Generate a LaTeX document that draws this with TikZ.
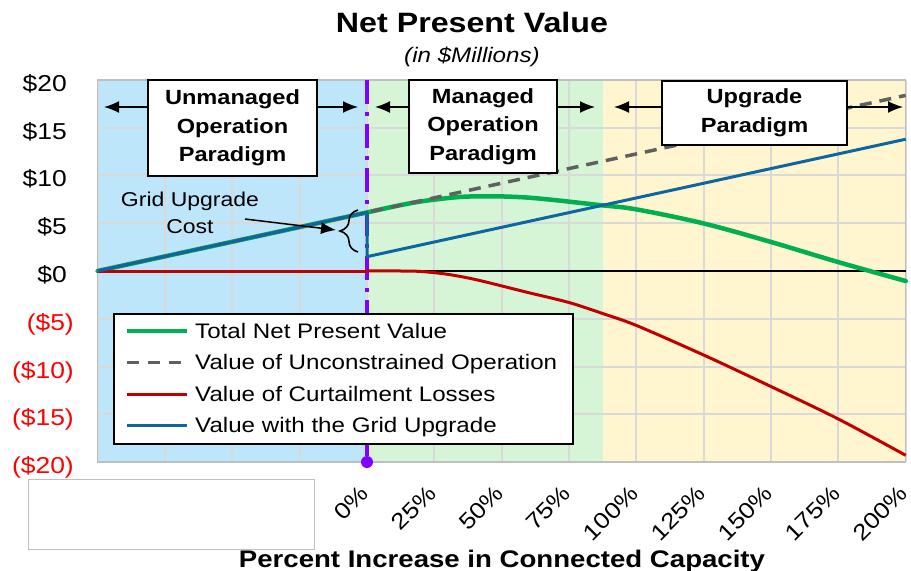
\documentclass[tikz,border=0pt]{standalone}
\usepackage{fontspec}
\setmainfont{Liberation Sans}[FakeStretch=1.15]
\usetikzlibrary{decorations.pathreplacing,arrows.meta}
\definecolor{bgblue}{RGB}{189,230,251}
\definecolor{bggreen}{RGB}{214,245,214}
\definecolor{bgyellow}{RGB}{255,245,206}
\definecolor{gridc}{RGB}{217,217,217}
\definecolor{framec}{RGB}{191,191,191}
\definecolor{sgreen}{RGB}{0,176,80}
\definecolor{sgray}{RGB}{96,96,96}
\definecolor{sred}{RGB}{192,0,0}
\definecolor{sblue}{RGB}{14,102,160}
\definecolor{purp}{RGB}{128,0,255}
\definecolor{negred}{RGB}{255,0,0}
\newcommand\fs[2]{\fontsize{#1bp}{#2bp}\selectfont}
\begin{document}
\begin{tikzpicture}[x=1bp,y=-1bp,
  ylab/.style={anchor=base east, inner sep=0pt, font=\fs{23}{27}},
  xlab/.style={anchor=east, rotate=45, inner sep=0pt, font=\fs{22.5}{26}},
  parbox/.style={draw, line width=2bp, fill=white, align=center, inner sep=0pt, font=\bfseries\fs{20.5}{28.5}},
  arr/.style={-{Latex[length=15bp,width=12bp]}, line width=1.5bp},
  legtext/.style={anchor=base west, inner sep=0pt, font=\fs{21}{25}},
  gridline/.style={gridc, line width=2bp},
  sgreenline/.style={sgreen, line width=4.5bp, line join=round, line cap=round},
  sgrayline/.style={sgray, line width=3.5bp, dash pattern=on 12bp off 8bp},
  sredline/.style={sred, line width=3bp, line join=round},
  sblueline/.style={sblue, line width=3bp, line join=round}]
\useasboundingbox (0,0) rectangle (911,571);
\fill[white] (0,0) rectangle (911,571);

% titles
\node[anchor=base, inner sep=0pt, font=\bfseries\fs{28}{32}] (title) at (472,33) {Net Present Value};
\node[anchor=base, inner sep=0pt, font=\itshape\fs{21}{25}] (subtitle) at (472,63) {(in \$Millions)};

% plot
\begin{scope}[shift={(367,271)}, x=2.6935bp, y=9.55bp]
  \fill[bgblue] (-100,-20) rectangle (0,20);
  \fill[bggreen] (0,-20) rectangle (87.6,20);
  \fill[bgyellow] (87.6,-20) rectangle (200,20);
  \foreach \i in {-100,-75,...,200} \draw[gridline] (\i,-20) -- (\i,20);
  \foreach \j in {-20,-15,...,20} \draw[gridline] (-100,\j) -- (200,\j);
  \draw[framec, line width=1.5bp] (-100,-20) rectangle (200,20);
  \draw[purp, line width=3.5bp, dash pattern=on 24bp off 8bp on 4bp off 8bp] (0,20) -- (0,-20);
  \draw[black, line width=1.5bp] (-100,0) -- (200,0);
  \draw[sgreenline] (-100,0) -- (0,6.13);
  \draw[sgreenline] plot[smooth, tension=0.55] coordinates {(0,6.13) (12.5,6.9) (23,7.4) (38,7.8) (59,7.7) (86.5,6.9) (100,6.45) (124.7,5.0) (149.6,3.07) (174.5,0.97) (200,-1.05)};
  \draw[sgrayline] (-100,0) -- (200,18.39);
  \draw[sredline] (-100,0) -- (0,0);
  \draw[sredline] plot[smooth, tension=0.5] coordinates {(0,0) (12.5,0) (20,-0.05) (30,-0.35) (41,-0.94) (59,-2.2) (75,-3.3) (88,-4.5) (100,-5.7) (125,-8.8) (150,-12.1) (175,-15.5) (200,-19.3)};
  \draw[sblueline] (-100,0) -- (0,6.13) -- (0,1.5) -- (200,13.8);
  \fill[purp] (0,-20) circle[radius=6bp];
  \foreach \X in {0,25,...,200} \node[xlab] (tick\X) at (\X-0.8,-22.9) {\X\%};
\end{scope}

% y labels
\foreach \v in {0,5,10,15,20} \node[ylab] (yl\v) at (67,{282.5-9.55*\v}) {\$\v};
\foreach \v in {5,10,15,20} \node[ylab, text=negred] (yn\v) at (74,{282.5+9.55*\v}) {(\$\v)};

% paradigm boxes
\node[parbox, minimum width=169bp, minimum height=96bp] (um) at (232.5,128) {Unmanaged\\Operation\\Paradigm};
\node[parbox, minimum width=148bp, minimum height=93bp] (mm) at (483,126.5) {Managed\\Operation\\Paradigm};
\node[parbox, minimum width=185bp, minimum height=64bp, font=\bfseries\fs{20.5}{29}] (gm) at (754.5,113) {Upgrade\\Paradigm};
\coordinate (ua1) at (104,107); \coordinate (ua2) at (358,107);
\coordinate (ma1) at (375,107); \coordinate (ma2) at (595,107);
\coordinate (ga1) at (614,107); \coordinate (ga2) at (903,107);
\draw[arr] (ua1 -| um.west) -- (ua1);
\draw[arr] (ua2 -| um.east) -- (ua2);
\draw[arr] (ma1 -| mm.west) -- (ma1);
\draw[arr] (ma2 -| mm.east) -- (ma2);
\draw[arr] (ga1 -| gm.west) -- (ga1);
\draw[arr] (ga2 -| gm.east) -- (ga2);

% grid upgrade cost
\node[align=center, inner sep=0pt, font=\fs{20}{27}] (guc) at (190,213) {Grid Upgrade\\Cost};
\coordinate (gucA) at (245,219); \coordinate (gucB) at (336,230);
\draw[arr] (gucA) -- (gucB);
\coordinate (brB) at (358,252); \coordinate (brT) at (358,210);
\draw[decorate, decoration={brace, amplitude=18bp, aspect=0.5}, line width=1.6bp] (brB) -- (brT);

% legend
\node[draw, line width=2bp, fill=white, minimum width=459bp, minimum height=130bp, anchor=north west, inner sep=0pt] (leg) at (113,313) {};
\draw[sgreen, line width=4.5bp] (127,331) -- (187,331);
\draw[sgray, line width=3.5bp, dash pattern=on 12bp off 9bp] (127,362.5) -- (187,362.5);
\draw[sred, line width=3bp] (127,394) -- (187,394);
\draw[sblue, line width=3bp] (127,425.5) -- (187,425.5);
\node[legtext] (l1) at (195,338) {Total Net Present Value};
\node[legtext] (l2) at (195,369.5) {Value of Unconstrained Operation};
\node[legtext] (l3) at (195,401) {Value of Curtailment Losses};
\node[legtext] (l4) at (195,432.5) {Value with the Grid Upgrade};

% empty box and axis title
\draw[framec, line width=1bp] (28,479) rectangle (314,549);
\node[anchor=base, inner sep=0pt, font=\bfseries\fs{24}{28}] (xt) at (502,567) {Percent Increase in Connected Capacity};
\end{tikzpicture}
\end{document}
